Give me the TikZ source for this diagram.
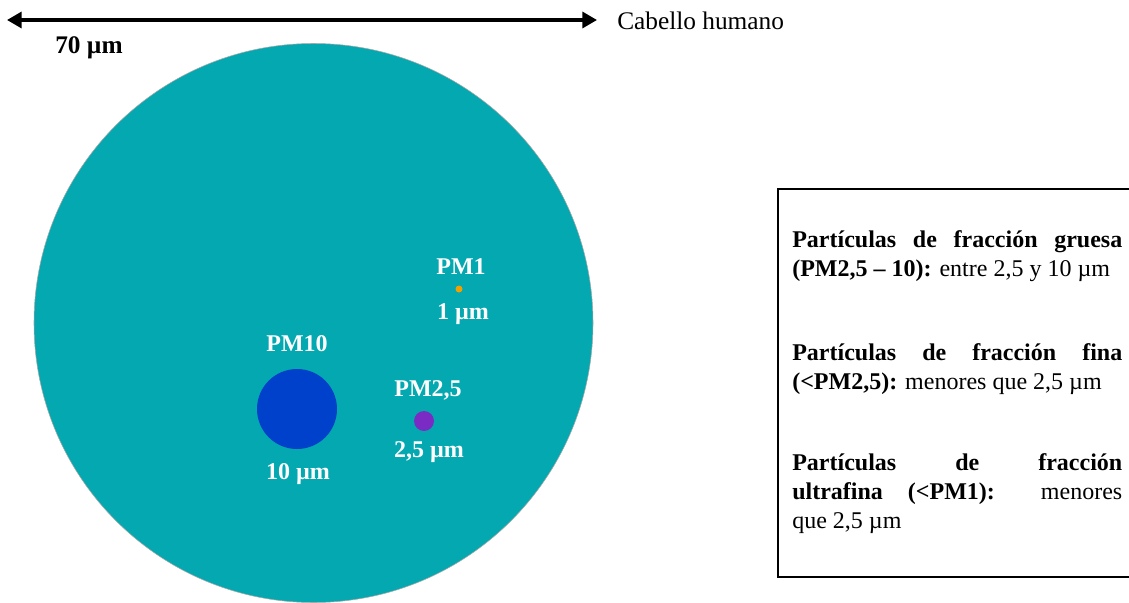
\documentclass[tikz,border=0pt]{standalone}
\usepackage{fontspec}
\setmainfont{Liberation Serif}
\usetikzlibrary{arrows.meta}
\definecolor{hair}{HTML}{03A8B0}
\definecolor{pmten}{HTML}{0041CC}
\definecolor{pmtwo}{HTML}{7A2BC4}
\definecolor{pmone}{HTML}{F0A000}
\tikzset{
  lbl/.style={font=\fontsize{18}{21}\selectfont\bfseries, text=white, inner sep=0pt, anchor=base},
  particle/.style={circle, inner sep=0pt, draw=none},
  boxtext/.style={font=\fontsize{18}{21.75}\selectfont, text width=247.5pt, align=justify, inner sep=0pt, anchor=base west},
  toptext/.style={font=\fontsize{19}{21}\selectfont, inner sep=0pt, anchor=base west},
  tip/.style={Triangle[length=11pt,width=12pt]},
}
\begin{document}
\begin{tikzpicture}[x=0.75pt,y=-0.75pt]
\useasboundingbox (0,0) rectangle (1129,603);
% human hair
\node[particle, fill=hair, draw=gray!70, line width=0.4pt, minimum size=559*0.75pt] (hair) at (313.5,323) {};
% scale arrow
\coordinate (al) at (7,20);
\coordinate (ar) at (597,20);
\draw[line width=2.5pt, {Triangle[length=11pt,width=12pt]}-{Triangle[length=11pt,width=12pt]}] (al) -- (ar);
\node[toptext] (cab) at (617,29) {Cabello humano};
\node[toptext, font=\fontsize{19}{21}\selectfont\bfseries] (seventy) at (55,53) {70 µm};
% particles
\node[particle, fill=pmten, minimum size=80*0.75pt] (pm10) at (297,409) {};
\node[particle, fill=pmtwo, minimum size=20*0.75pt] (pm25) at (424,421) {};
\node[particle, fill=pmone, minimum size=7*0.75pt] (pm1) at (459,289) {};
\node[lbl] (pm10t) at (297,351) {PM10};
\node[lbl] (pm10s) at (298,479) {10 µm};
\node[lbl] (pm25t) at (428,396) {PM2,5};
\node[lbl] (pm25s) at (429,457) {2,5 µm};
\node[lbl] (pm1t) at (461,274) {PM1};
\node[lbl] (pm1s) at (463,319) {1 µm};
% legend box
\draw[line width=1.6pt] (1135,189) -- (778,189) -- (778,577) -- (1135,577);
\node[boxtext] (p1) at (792,247) {\textbf{Partículas de fracción gruesa}\linebreak \textbf{(PM2,5 – 10):} entre 2,5 y 10 µm};
\node[boxtext] (p2) at (792,360) {\textbf{Partículas de fracción fina}\linebreak \textbf{(<PM2,5):} menores que 2,5 µm};
\node[boxtext] (p3) at (792,470) {\textbf{Partículas de fracción}\linebreak \textbf{ultrafina (<PM1):} menores\linebreak que 2,5 µm};
\end{tikzpicture}
\end{document}
